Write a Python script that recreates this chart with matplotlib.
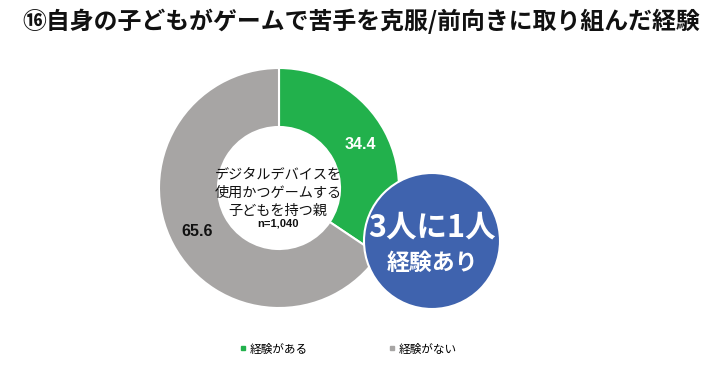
import matplotlib
matplotlib.use("Agg")
import matplotlib.pyplot as plt
from matplotlib.patches import Circle
from matplotlib.lines import Line2D

plt.rcParams['font.family'] = ['Noto Sans CJK JP', 'DejaVu Sans']

title = "⑯自身の子どもがゲームで苦手を克服/前向きに取り組んだ経験"
categories = ["経験がある", "経験がない"]
values = [34.4, 65.6]
colors = ["#22B14C", "#A7A5A4"]
center_lines = ["デジタルデバイスを", "使用かつゲームする", "子どもを持つ親"]
n_label = "n=1,040"
badge_lines = ["3人に1人", "経験あり"]

W, H = 720, 382
fig = plt.figure(figsize=(W / 100, H / 100), dpi=100)
ax = fig.add_axes([0, 0, 1, 1])

cx, cy, R = 279, H - 188, 120
wedges, texts, autotexts = ax.pie(
    values, colors=colors, startangle=90, counterclock=False,
    center=(cx, cy), radius=R, autopct="%.1f", pctdistance=0.77,
    wedgeprops=dict(width=59, edgecolor="white", linewidth=1.5),
    textprops=dict(fontsize=11.5, fontweight="bold", family=["Liberation Sans", "DejaVu Sans"]))
autotexts[0].set_color("white")
autotexts[1].set_color("#111111")

ax.set_xlim(0, W)
ax.set_ylim(0, H)
ax.set_aspect("equal")
ax.axis("off")

# center text
ys = [175, 193, 211]
for t, y in zip(center_lines, ys):
    ax.text(278, H - y, t, ha="center", va="center", fontsize=10.2, color="#111111")
ax.text(278, H - 224, n_label, ha="center", va="center", fontsize=8, fontweight="bold",
        family=["Liberation Sans", "DejaVu Sans"], color="#111111")

# badge
ax.add_patch(Circle((432, H - 241), 68, facecolor="#3F63AE", edgecolor="white", linewidth=1.5, zorder=5))
ax.text(432, H - 228, badge_lines[0], ha="center", va="center", fontsize=22, fontweight="bold",
        color="white", zorder=6)
ax.text(432, H - 263, badge_lines[1], ha="center", va="center", fontsize=16.5, fontweight="bold",
        color="white", zorder=6)

# title
fig.text(22 / W, 1 - 21 / H, title, ha="left", va="center", fontsize=17.2, fontweight="bold",
         color="#111111")

# legend
handles = [Line2D([], [], marker="s", linestyle="none", markersize=3.2, color=c) for c in colors]
fig.legend(handles, categories, loc="center", bbox_to_anchor=(348 / W, 1 - 349 / H), ncol=2,
           frameon=False, fontsize=8.4, handlelength=0.6, handletextpad=0.3, columnspacing=6.9)

fig.savefig("out.png", dpi=100)
